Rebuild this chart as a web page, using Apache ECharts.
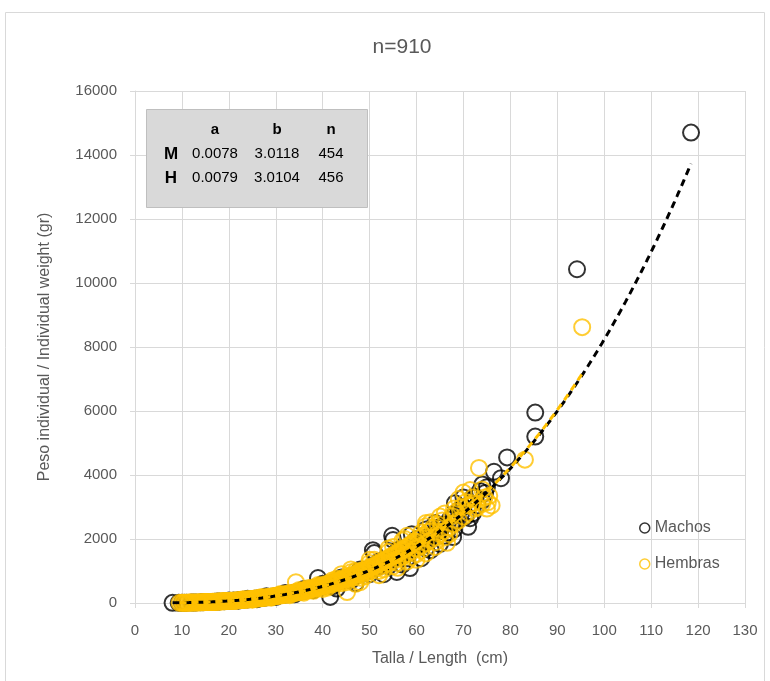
<!DOCTYPE html>
<html>
<head>
<meta charset="utf-8">
<script src="https://cdn.jsdelivr.net/npm/echarts@6/dist/echarts.min.js"></script>
<style>
  html, body { margin: 0; padding: 0; background: #fff; }
  #chart { width: 770px; height: 681px; }
</style>
</head>
<body>
<div id="chart"></div>
<script>
// Length–weight relationship, males vs females
var titleText = 'n=910';
var seriesNames = ['Machos', 'Hembras'];
var seriesColors = ['#000000', '#FFC000'];

// Fitted power model W = a * L^b for each sex
var tableHeader = ['a', 'b', 'n'];
var sexCodes = ['M', 'H'];
var coefA = [0.0078, 0.0079];
var coefB = [3.0118, 3.0104];
var sampleN = [454, 456];
var coefBLabels = ['3.0118', '3.0104'];

// Axis ticks
var xMin = 0, xMax = 130, xStep = 10;
var yMin = 0, yMax = 16000, yStep = 2000;

// Males: [length cm, weight gr]
var machos = [
  [8,4],[9.3,6],[10,8],[10.5,9],[11,10],[12,13],[12.5,16],[13,18],[14,22],[14.5,26],
  [15,28],[16,34],[17,40],[17.5,45],[18,48],[19,56],[19.5,60],[20,64],[20,80],[21,76],[22,86],[22,70],
  [22.5,90],[23,98],[24,112],[24,130],[25,126],[25.5,135],[26,140],[26,120],[27,158],[27.5,165],[28,178],[28,210],[29,195],
  [30,218],[30,190],[30.5,230],[31,242],[32,265],[32,310],[33,290],[33.5,300],[34,318],[34,270],[35,345],[36,380],[36,440],[37,410],
  [37.5,440],[38,460],[38,400],[39,780],[39,500],[40,520],[40,600],[40.5,560],[41,570],[41.6,190],[42,600],[42,520],[42.5,640],
  [43,660],[43,450],[44,700],[44,800],[44.5,760],[45,740],[45.5,800],[46,790],[46,700],[47,850],[47,620],[47.5,900],[48,920],[48,1050],[48.5,980],
  [49,960],[49.5,1050],[50,1010],[50,900],[50.5,1090],[50.7,1650],[51,1560],[51.5,1110],[52,1150],[52,1300],[52.5,1230],[53,1200],[53,900],
  [53.5,1300],[54,1280],[54,1150],[54.5,1380],[54.8,2100],[55,1970],[55.5,1400],[55.8,970],[56,1450],[56,1650],[56.5,1520],[57,1480],[57,1200],
  [57.5,1600],[58,1550],[58,1400],[58.6,1090],[59,1680],[59,2150],[59.5,1700],[60,1760],[60,2000],[60.5,1820],[61,1850],[61,1400],[61.5,1950],[62,1900],[62,1700],[62,2300],
  [62.5,2080],[63,2050],[63,1650],[63.5,2150],[64,2200],[64,2500],[64.5,2350],[65,2250],[65,1850],[65.5,2400],[66,2450],[66,2100],[66.5,2200],[67,2600],
  [67.5,2500],[67.8,2060],[68,2750],[68,2300],[68.2,3120],[68.8,2590],[69,2900],[69.5,2800],[70,3000],[70,3300],[70.5,2700],[71,2380],
  [71.4,2650],[71.5,3100],[72,3300],[72,2800],[72.5,3310],[73,3050],[73.5,3500],[74,3200],[74,3700],[74.6,3440],[75,3620],[76.5,4100],
  [78,3900],[79.3,4550],[85.3,5200],[85.3,5950],[94.2,10430],[118.5,14700]
];

// Females: [length cm, weight gr]
var hembras = [
  [9.5,6],[10,7],[10.5,10],[11,10],[11.5,13],[12,13],[12.5,16],[13,18],[13.5,19],[14,22],
  [14.5,24],[15,28],[15,35],[15.5,30],[16,33],[16.5,37],[17,38],[17,32],[17.5,44],[18,46],[18.5,52],[19,54],[19,66],
  [19.5,61],[20,62],[20.5,70],[21,72],[21,62],[21.5,80],[22,83],[22.5,93],[23,95],[23,115],[23.5,108],[24,106],
  [24.5,122],[25,120],[25,105],[25.5,138],[26,136],[26.5,156],[27,152],[27,185],[27.5,175],[28,170],[28.5,195],[29,190],[29,165],
  [29.5,215],[30,210],[30.5,240],[31,232],[31,280],[31.5,265],[32,255],[32.5,295],[33,280],[33,245],[33.5,320],[34,305],
  [34.3,650],[34.5,350],[35,335],[35,410],[35.5,385],[36,365],[36,320],[36.5,420],[37,395],[37,470],[37.5,460],[38,430],[38,380],[38.5,500],
  [39,470],[39,560],[39.5,540],[40,505],[40,440],[40.5,585],[41,545],[41,480],[41.5,630],[42,585],[42,700],[42.5,680],
  [43,630],[43,760],[43.5,730],[44,675],[44,620],[44,900],[44.5,790],[45,720],[45,650],[45.2,340],[45.5,840],[46,770],[46,960],[46,1050],
  [46.5,890],[47,820],[47,1000],[47,600],[47.5,950],[48,880],[48,790],[48,650],[48.5,1020],[49,940],[49,830],[49.5,1090],[50,990],[50,1250],[50,1350],
  [50.5,1150],[51,1050],[51,1350],[51.5,1220],[52,1110],[52,1000],[52,870],[52.5,1300],[53,1180],[53,1050],[53.5,1380],[54,1240],[54,1600],[54,1700],
  [54.5,1460],[55,1300],[55,1750],[55,1150],[55.5,1550],[56,1380],[56,1250],[56,1100],[56.5,1640],[57,1450],[57,1950],[57.5,1720],[57.5,2000],
  [58,1530],[58,2100],[58,1300],[58.5,1820],[59,1610],[59,1430],[59.5,1920],[60,1700],[60,1530],[60,1350],[60.5,2020],[61,1780],[61,2200],[61,1650],[61.5,2120],
  [62,1870],[62,2400],[62,2500],[62,1550],[62.5,2230],[63,1960],[63,2520],[63,2250],[63.5,2350],[64,2050],[64,1900],[64,1750],[64.5,2460],[65,2150],[65,2700],
  [65.5,2580],[66,2250],[66,2050],[66,2800],[66.5,1880],[67,2360],[67,2150],[67.5,2720],[68,2470],[68,2950],[68.5,2850],[69,2580],[69,3250],[69.5,3000],[70,2700],[70,3450],
  [70.5,3150],[71,2820],[71,3050],[71.4,3530],[72,3120],[72,3300],[72.5,2950],[73,3000],[73.3,4220],[74,3100],[74,3550],[74.5,3300],[75,2950],[75.2,3150],
  [75.5,3350],[76,3050],[83.1,4480],[95.3,8620],
  [10.2,8],[10.8,9],[11.3,11],[11.8,12],[12.3,15],[12.8,17],[13.3,19],[13.8,21],[14.3,24],[14.8,27],
  [15.3,29],[15.8,32],[16.3,35],[16.8,39],[17.3,42],[17.8,46],[18.3,50],[18.8,54],[19.3,58],[19.8,63],
  [20.3,67],[20.8,72],[21.3,77],[21.8,82],[22.3,88],[22.8,95],[23.3,101],[23.8,108],[24.3,115],[24.8,122],
  [25.3,130],[25.8,138],[26.3,146],[26.8,155],[27.3,163],[27.8,172],[28.3,182],[28.8,192],[29.3,202],[29.8,212],
  [30.3,224],[30.8,236],[31.3,248],[31.8,260],[32.3,272],[32.8,285],[33.3,300],[33.8,314],[34.3,330],[34.8,345],
  [35.3,360],[35.8,377],[36.3,393],[36.8,410],[37.3,428],[37.8,446],[38.3,465],[38.8,485],[39.3,505],[39.8,525],
  [40.3,545],[40.8,567],[41.3,590],[41.8,612],[42.3,636],[42.8,660],[43.3,684],[43.8,710],[44.3,735],[44.8,762],
  [45.3,790],[45.8,818],[46.3,846],[46.8,875],[47.3,905],[47.8,935],[48.3,967],[48.8,1000],[49.3,1030],[49.8,1065],
  [50.3,1100],[50.8,1135],[51.3,1170],[51.8,1205],[52.3,1245],[52.8,1285],[53.3,1325],[53.8,1365],[54.3,1405],[54.8,1450],
  [55.3,1490],[55.8,1535],[56.3,1580],[56.8,1625],[57.3,1675],[57.8,1720],[58.3,1770],[58.8,1820],[59.3,1870],[59.8,1925]
];

var allPoints = [machos, hembras];

// Fitted curves drawn from the stated coefficients over each sample's length range
function fitCurve(points, a, b) {
  var lengths = points.map(function (p) { return p[0]; });
  var lo = Math.min.apply(null, lengths), hi = Math.max.apply(null, lengths);
  var out = [];
  for (var L = lo; L < hi; L += 0.5) out.push([L, a * Math.pow(L, b)]);
  out.push([hi, a * Math.pow(hi, b)]);
  return out;
}

var FONT = 'Liberation Sans';
var GREY_TEXT = '#595959';
var GRID_LINE = '#d9d9d9';

var chart = echarts.init(document.getElementById('chart'), null, { renderer: 'canvas' });

var series = [];
allPoints.forEach(function (pts, i) {
  series.push({
    name: seriesNames[i],
    type: 'scatter',
    data: pts,
    symbol: 'circle',
    symbolSize: 16,
    itemStyle: { color: 'rgba(0,0,0,0)', borderColor: seriesColors[i], borderWidth: 2 },
    emphasis: { disabled: true },
    z: 2 + i
  });
});
allPoints.forEach(function (pts, i) {
  series.push({
    name: seriesNames[i] + ' ajuste',
    type: 'line',
    data: fitCurve(pts, coefA[i], coefB[i]),
    showSymbol: false,
    symbol: 'none',
    lineStyle: { color: seriesColors[i], width: 3, type: [7, 5] },
    emphasis: { disabled: true },
    z: 5 + i
  });
});

// Coefficient table drawn in the upper-left of the plot
var tbl = [];
var colX = [215, 277, 331];
var rowY = [130, 154, 178];
tbl.push({
  type: 'rect',
  shape: { x: 146.5, y: 109.5, width: 221, height: 98 },
  style: { fill: '#d9d9d9', stroke: '#bfbfbf', lineWidth: 1 },
  z: 20
});
tableHeader.forEach(function (h, c) {
  tbl.push({ type: 'text', x: colX[c], y: rowY[0], z: 21,
    style: { text: h, font: 'bold 15px "' + FONT + '"', fill: '#000', align: 'center', verticalAlign: 'middle' } });
});
sexCodes.forEach(function (s, r) {
  var y = rowY[r + 1];
  tbl.push({ type: 'text', x: 171, y: y, z: 21,
    style: { text: s, font: 'bold 17px "' + FONT + '"', fill: '#000', align: 'center', verticalAlign: 'middle' } });
  [coefA[r].toFixed(4), coefBLabels[r], String(sampleN[r])].forEach(function (v, c) {
    tbl.push({ type: 'text', x: colX[c], y: y, z: 21,
      style: { text: v, font: '15px "' + FONT + '"', fill: '#000', align: 'center', verticalAlign: 'middle' } });
  });
});

// Outer chart frame
tbl.push({
  type: 'rect',
  shape: { x: 5.5, y: 12.5, width: 759, height: 700 },
  style: { fill: 'none', stroke: '#d9d9d9', lineWidth: 1 },
  z: 0
});

chart.setOption({
  animation: false,
  backgroundColor: '#ffffff',
  title: {
    text: titleText,
    left: 397, top: 32,
    textAlign: 'center',
    textStyle: { fontFamily: FONT, fontSize: 21, fontWeight: 'normal', color: GREY_TEXT }
  },
  grid: { left: 135, right: 25, top: 91, bottom: 78, containLabel: false },
  legend: {
    orient: 'vertical',
    left: 634, top: 515,
    itemGap: 20,
    itemWidth: 10, itemHeight: 10,
    textStyle: { fontFamily: FONT, fontSize: 16, color: GREY_TEXT },
    data: seriesNames.map(function (n, i) {
      return { name: n, icon: 'circle',
        itemStyle: { color: 'rgba(0,0,0,0)', borderColor: seriesColors[i], borderWidth: 1.5 } };
    })
  },
  xAxis: {
    type: 'value',
    min: xMin, max: xMax, interval: xStep,
    name: 'Talla / Length  (cm)',
    nameLocation: 'middle', nameGap: 48,
    nameTextStyle: { fontFamily: FONT, fontSize: 16, color: GREY_TEXT },
    axisLine: { show: true, lineStyle: { color: GRID_LINE, width: 1 } },
    axisTick: { show: true, length: 5, lineStyle: { color: GRID_LINE } },
    axisLabel: { fontFamily: FONT, fontSize: 15, color: GREY_TEXT, margin: 20 },
    splitLine: { show: true, lineStyle: { color: GRID_LINE, width: 1 } }
  },
  yAxis: {
    type: 'value',
    min: yMin, max: yMax, interval: yStep,
    name: 'Peso individual / Individual weight (gr)',
    nameLocation: 'middle', nameGap: 82, nameRotate: 90,
    nameTextStyle: { fontFamily: FONT, fontSize: 16, color: GREY_TEXT },
    axisLine: { show: true, lineStyle: { color: GRID_LINE, width: 1 } },
    axisTick: { show: true, length: 5, lineStyle: { color: GRID_LINE } },
    axisLabel: { fontFamily: FONT, fontSize: 15, color: GREY_TEXT, margin: 18,
      formatter: function (v) { return String(v); } },
    splitLine: { show: true, lineStyle: { color: GRID_LINE, width: 1 } }
  },
  graphic: tbl,
  series: series
});
</script>
</body>
</html>
